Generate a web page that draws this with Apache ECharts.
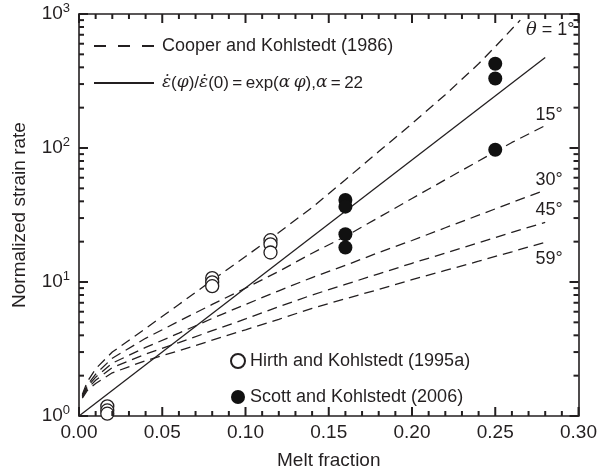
<!DOCTYPE html>
<html>
<head>
<meta charset="utf-8">
<script src="https://cdn.jsdelivr.net/npm/echarts@6/dist/echarts.min.js"></script>
<style>
  html, body { margin: 0; padding: 0; background: #fff; }
  #chart { width: 600px; height: 475px; }
</style>
</head>
<body>
<div id="chart"></div>
<script>
"use strict";

// dashed model curves (Cooper and Kohlstedt 1986)
const curvePhi = [0.002, 0.005, 0.01, 0.02, 0.04, 0.06, 0.08, 0.10, 0.12, 0.14, 0.16, 0.18, 0.20, 0.22, 0.24, 0.26, 0.28];
const theta15 = [1.42, 1.7, 2.05, 2.7, 3.8, 5.1, 6.8, 9.0, 12.0, 16.4, 21.9, 30.3, 42, 58, 80, 110, 147];
const theta30 = [1.4, 1.65, 1.95, 2.48, 3.25, 4.15, 5.35, 6.8, 8.6, 10.8, 13.3, 16.6, 20.4, 25.4, 31.5, 39.2, 48.6];
const theta45 = [1.38, 1.6, 1.85, 2.3, 2.9, 3.53, 4.33, 5.3, 6.55, 8.0, 9.6, 11.5, 13.8, 16.4, 19.6, 23.5, 27.8];
const theta59 = [1.36, 1.55, 1.75, 2.1, 2.59, 3.07, 3.68, 4.4, 5.27, 6.36, 7.5, 8.8, 10.4, 12.2, 14.3, 16.8, 19.8];

const theta1Phi = [0.002, 0.005, 0.01, 0.02, 0.04, 0.06, 0.08, 0.10, 0.12, 0.14, 0.16, 0.18, 0.20, 0.22, 0.24, 0.25, 0.265];
const theta1 = [1.45, 1.8, 2.25, 3.0, 4.5, 6.8, 10.3, 15.5, 23.4, 36, 58, 94, 152, 250, 425, 570, 900];

// exp(22 phi) is straight on the log axis
const fitPhi = [0, 0.28];
const fitVal = [1, 473];

const hirthPhi = [0.017, 0.017, 0.017, 0.08, 0.08, 0.08, 0.115, 0.115, 0.115];
const hirthVal = [1.18, 1.1, 1.04, 10.7, 9.95, 9.3, 20.5, 19.1, 16.6];

const scottPhi = [0.16, 0.16, 0.16, 0.16, 0.25, 0.25, 0.25];
const scottVal = [41, 36.5, 22.7, 18.1, 425, 330, 97];

// tick positions (drawn on all four sides of the frame)
const xMajorTicks = [0, 0.05, 0.10, 0.15, 0.20, 0.25, 0.30];
const xMinorTicks = [0.01, 0.02, 0.03, 0.04, 0.06, 0.07, 0.08, 0.09, 0.11, 0.12, 0.13, 0.14,
  0.16, 0.17, 0.18, 0.19, 0.21, 0.22, 0.23, 0.24, 0.26, 0.27, 0.28, 0.29];
const yMajorTicks = [1, 10, 100, 1000];
const yMinorTicks = [2, 3, 4, 5, 6, 7, 8, 9, 20, 30, 40, 50, 60, 70, 80, 90, 200, 300, 400, 500, 600, 700, 800, 900];

const INK = "#231f20";
const FONT = "'Liberation Sans', Arial, Helvetica, sans-serif";
const COOPER = "Cooper and Kohlstedt (1986)";
const FIT = "fit";
const X_MIN = 0, X_MAX = 0.3, Y_MIN = 1, Y_MAX = 1000;
const MAJOR_LEN = 9, MINOR_LEN = 5, TICK_W = 2;

const zip = (xs, ys) => xs.map((x, i) => [x, ys[i]]);

function dashed(phis, vals, label, offset) {
  return {
    name: COOPER,
    type: "line",
    symbol: "none",
    data: zip(phis, vals),
    itemStyle: { color: INK },
    lineStyle: { color: INK, width: 1.3, type: [10, 6] },
    endLabel: {
      show: true,
      formatter: label,
      distance: 0,
      offset: offset,
      align: "center",
      verticalAlign: "middle",
      color: INK,
      fontSize: 18,
      fontFamily: FONT,
      rich: { i: { fontStyle: "italic", fontSize: 18, fontFamily: "'DejaVu Serif', serif" } },
    },
  };
}

const frameLine = { show: true, onZero: false, lineStyle: { color: INK, width: 1.6 } };

const chart = echarts.init(document.getElementById("chart"));

chart.setOption({
  animation: false,
  backgroundColor: "#fff",
  textStyle: { fontFamily: FONT, color: INK },
  grid: { left: 79, right: 21, top: 14, bottom: 58 },
  xAxis: [
    {
      type: "value", min: X_MIN, max: X_MAX, interval: 0.05, position: "bottom",
      axisLine: frameLine,
      axisTick: { show: false },
      splitLine: { show: false },
      axisLabel: { margin: 7, fontSize: 19, fontFamily: FONT, color: INK, formatter: (v) => v.toFixed(2) },
      name: "Melt fraction",
      nameLocation: "middle",
      nameGap: 35,
      nameTextStyle: { fontSize: 19, fontFamily: FONT, color: INK },
    },
    {
      type: "value", min: X_MIN, max: X_MAX, interval: 0.05, position: "top",
      axisLine: frameLine,
      axisTick: { show: false },
      axisLabel: { show: false },
      splitLine: { show: false },
    },
  ],
  yAxis: [
    {
      type: "log", logBase: 10, min: Y_MIN, max: Y_MAX, position: "left",
      axisLine: frameLine,
      axisTick: { show: false },
      splitLine: { show: false },
      axisLabel: {
        margin: 9,
        formatter: (v) => `{b|10}{s|${Math.round(Math.log10(v))}}`,
        rich: {
          b: { fontSize: 19, fontFamily: FONT, color: INK },
          s: { fontSize: 13, fontFamily: FONT, color: INK, padding: [0, 0, 11, 0] },
        },
      },
      name: "Normalized strain rate",
      nameLocation: "middle",
      nameGap: 50,
      nameTextStyle: { fontSize: 19, fontFamily: FONT, color: INK },
    },
    {
      type: "log", logBase: 10, min: Y_MIN, max: Y_MAX, position: "right",
      axisLine: frameLine,
      axisTick: { show: false },
      axisLabel: { show: false },
      splitLine: { show: false },
    },
  ],
  legend: [
    {
      left: 88, top: 31, orient: "vertical",
      itemWidth: 60, itemHeight: 14, itemGap: 17,
      selectedMode: false,
      data: [
        { name: COOPER, lineStyle: { type: [12, 12] }, itemStyle: { opacity: 0 } },
        { name: FIT, itemStyle: { opacity: 0 } },
      ],
      textStyle: {
        fontSize: 18, fontFamily: FONT, color: INK, lineHeight: 20, padding: [0, 0, 0, 3],
        rich: {
          t: { fontSize: 17, fontFamily: FONT, color: INK },
          i: { fontSize: 17, fontFamily: "'DejaVu Serif', serif", fontStyle: "italic", color: INK },
        },
      },
      formatter: (n) => n === FIT
        ? "{i|\u03b5\u0307}{t|(}{i|\u03c6}{t|)/}{i|\u03b5\u0307}{t|(0)\u2009=\u2009exp(}{i|\u03b1\u2009\u03c6}{t|),}{i|\u03b1}{t|\u2009=\u200922}"
        : n,
    },
    {
      left: 225, top: 346, orient: "vertical",
      itemWidth: 14, itemHeight: 14, itemGap: 16,
      selectedMode: false,
      data: ["Hirth and Kohlstedt (1995a)", "Scott and Kohlstedt (2006)"],
      textStyle: { fontSize: 18, fontFamily: FONT, color: INK, lineHeight: 20 },
    },
  ],
  series: [
    dashed(theta1Phi, theta1, "{i|\u03b8} = 1\u00b0", [30, 10]),
    dashed(curvePhi, theta15, "15\u00b0", [4, -11]),
    dashed(curvePhi, theta30, "30\u00b0", [4, -10]),
    dashed(curvePhi, theta45, "45\u00b0", [4, -12]),
    dashed(curvePhi, theta59, "59\u00b0", [4, 17]),
    {
      name: FIT,
      type: "line",
      symbol: "none",
      data: zip(fitPhi, fitVal),
      itemStyle: { color: INK },
      lineStyle: { color: INK, width: 1.3, type: "solid" },
    },
    {
      name: "Hirth and Kohlstedt (1995a)",
      type: "scatter",
      symbol: "circle",
      symbolSize: 13,
      data: zip(hirthPhi, hirthVal),
      itemStyle: { color: "#fff", borderColor: INK, borderWidth: 1.3, opacity: 1 },
      z: 3,
    },
    {
      name: "Scott and Kohlstedt (2006)",
      type: "scatter",
      symbol: "circle",
      symbolSize: 14,
      data: zip(scottPhi, scottVal),
      itemStyle: { color: "#111", opacity: 1 },
      z: 3,
    },
  ],
});

// ticks as thin filled rects, placed through the chart's own axis scales
const toPx = (v) => chart.convertToPixel({ xAxisIndex: 0, yAxisIndex: 0 }, v);
const tickRect = (x, y, w, h) => ({
  type: "rect",
  silent: true,
  z: 100,
  shape: { x, y, width: w, height: h },
  style: { fill: INK },
});

const ticks = [];
const addX = (v, len) => {
  const b = toPx([v, Y_MIN]), t = toPx([v, Y_MAX]);
  ticks.push(tickRect(b[0] - TICK_W / 2, b[1] - len, TICK_W, len));
  ticks.push(tickRect(t[0] - TICK_W / 2, t[1], TICK_W, len));
};
const addY = (v, len) => {
  const l = toPx([X_MIN, v]), r = toPx([X_MAX, v]);
  ticks.push(tickRect(l[0], l[1] - TICK_W / 2, len, TICK_W));
  ticks.push(tickRect(r[0] - len, r[1] - TICK_W / 2, len, TICK_W));
};
xMajorTicks.forEach((v) => addX(v, MAJOR_LEN));
xMinorTicks.forEach((v) => addX(v, MINOR_LEN));
yMajorTicks.forEach((v) => addY(v, MAJOR_LEN));
yMinorTicks.forEach((v) => addY(v, MINOR_LEN));

chart.setOption({ graphic: { elements: ticks } });
</script>
</body>
</html>
